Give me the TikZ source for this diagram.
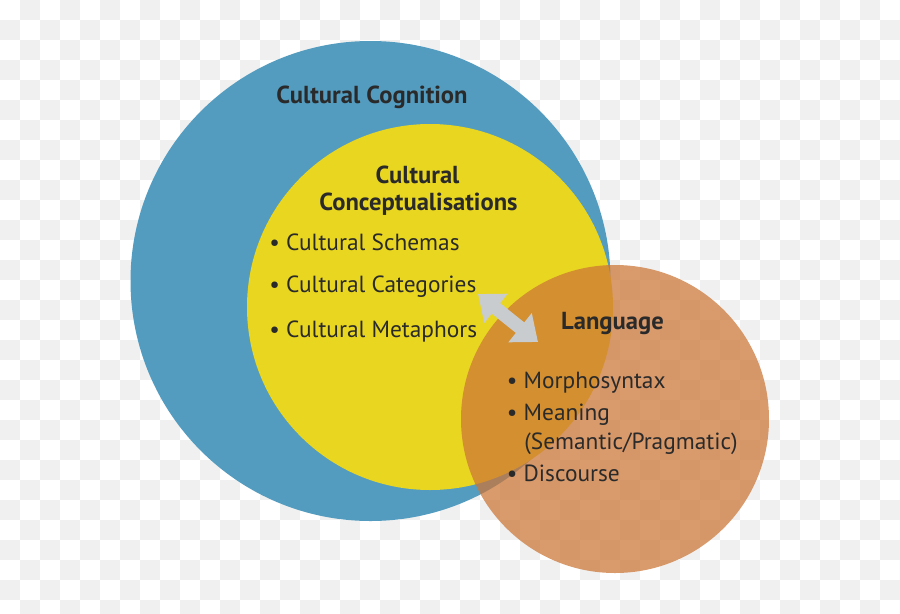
\documentclass[tikz,border=0pt]{standalone}
\usepackage{fontspec}
\setmainfont{PT Sans}
\usepackage{tikz}
\usetikzlibrary{arrows.meta}

\definecolor{checkgray}{HTML}{F0F0F0}
\definecolor{cogblue}{HTML}{539CBF}
\definecolor{conyellow}{HTML}{E9D621}
\definecolor{langorange}{HTML}{CC7536}
\definecolor{arrowgray}{HTML}{C8CCCF}
\definecolor{textdark}{HTML}{2A2A2A}

\tikzset{
  heading/.style={anchor=base, inner sep=0pt, text=textdark,
    font=\fontsize{14pt}{16pt}\selectfont\bfseries},
  item/.style={anchor=base west, inner sep=0pt, text=textdark,
    font=\fontsize{13.3pt}{15pt}\selectfont},
}

\begin{document}
\begin{tikzpicture}[x=0.02cm, y=-0.02cm]
        \useasboundingbox (0, 0) rectangle (900, 613);

        % checkered background
        \fill[white] (0, 0) rectangle (900, 613);
        \foreach \i in {0,...,44} {
          \foreach \j in {0,...,30} {
            \pgfmathtruncatemacro\odd{mod(\i+\j,2)}
            \ifnum\odd=1
              \fill[checkgray] (\i*20, \j*20) rectangle ++(20, 20);
            \fi
          }
        }

        \fill[cogblue] (370.5, 281) circle (240);
        \fill[conyellow] (430, 307) circle (183);
        \fill[langorange, opacity=0.73] (615, 419) circle (154);

        \node[heading] (cognition) at (372, 103.5) {Cultural Cognition};

        \node[heading] (conceptA) at (417.5, 183) {Cultural};
        \node[heading] (conceptB) at (418.5, 210.5) {Conceptualisations};

        \node[item] (schemas) at (269, 250.5) {\textbullet\ Cultural Schemas};
        \node[item] (categories) at (269, 292) {\textbullet\ Cultural Categories};
        \node[item] (metaphors) at (269, 337) {\textbullet\ Cultural Metaphors};

        \node[heading] (language) at (612.5, 329) {Language};

        \node[item] (morpho) at (506.5, 388) {\textbullet\ Morphosyntax};
        \node[item] (meaning) at (506.5, 420) {\textbullet\ Meaning};
        \node[item] (semprag) at (524, 449.5) {(Semantic/Pragmatic)};
        \node[item] (discourse) at (506.5, 481.5) {\textbullet\ Discourse};

        \coordinate (catTip) at (478, 294);
        \coordinate (langTip) at (538, 342);
        \draw[arrowgray, line width=0.27cm,
              {Triangle[length=0.46cm, width=0.72cm]}-{Triangle[length=0.46cm, width=0.72cm]}]
              (catTip) -- (langTip);
      \end{tikzpicture}
\end{document}
